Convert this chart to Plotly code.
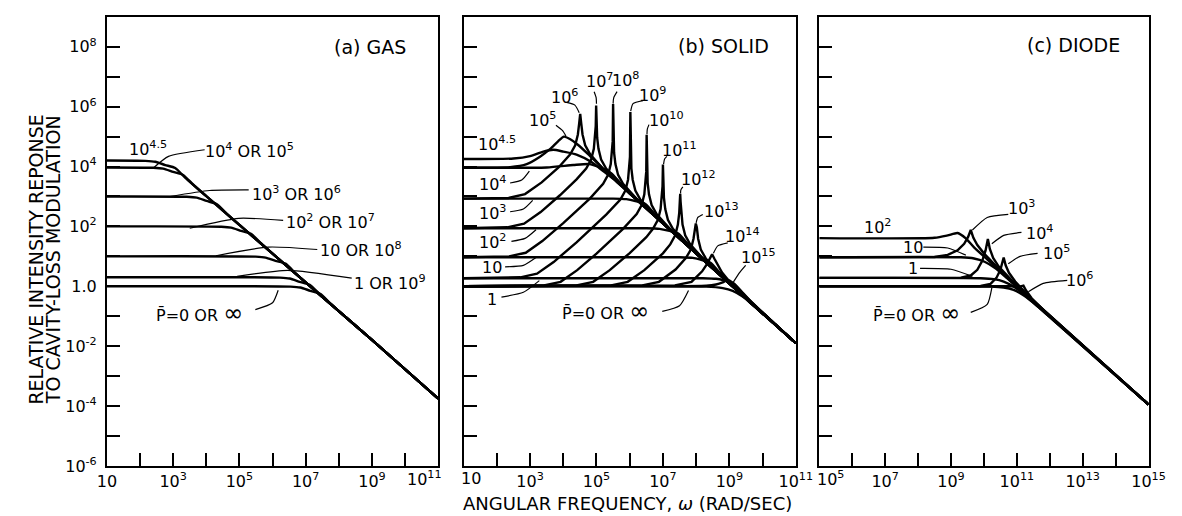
import numpy as np
import plotly.graph_objects as go

FONT = "DejaVu Sans"
W, H = 1182, 516

# ---------------- tick labels ----------------
x_ticks_ab = list(range(1, 12))
x_ticklabels_a = ["10", "", "10<sup>3</sup>", "", "10<sup>5</sup>", "", "10<sup>7</sup>", "",
                  "10<sup>9</sup>", "", ""]
x_ticklabels_b = ["", "", "10<sup>3</sup>", "", "10<sup>5</sup>", "", "10<sup>7</sup>", "",
                  "10<sup>9</sup>", "", "10<sup>11</sup>"]
x_ticks_c = list(range(5, 16))
x_ticklabels_c = ["", "", "10<sup>7</sup>", "", "10<sup>9</sup>", "", "10<sup>11</sup>", "",
                  "10<sup>13</sup>", "", "10<sup>15</sup>"]
# edge tick labels that sit slightly off their tick in the original: (text, pixel x)
edge_tick_labels = [("10<sup>11</sup>", 416), ("10", 464), ("10<sup>5</sup>", 832)]
y_ticks = list(range(-6, 10))
y_ticklabels = ["10<sup>-6</sup>", "", "10<sup>-4</sup>", "", "10<sup>-2</sup>", "", "1.0", "",
                "10<sup>2</sup>", "", "10<sup>4</sup>", "", "10<sup>6</sup>", "", "10<sup>8</sup>", ""]

# ---------------- (a) GAS : log10(omega), log10(response) ----------------
gas_curves = [
    ("0 or inf", [1, 6.54, 6.84, 7.14, 7.44, 7.74, 8, 9, 11],
     [0, -0.01, -0.04, -0.15, -0.25, -0.57, -0.83, -1.79, -3.75]),
    ("1 or 1e9", [1, 6.22, 6.52, 6.82, 7.12, 7.42, 8, 9, 11],
     [0.3, 0.29, 0.26, 0.15, 0.05, -0.26, -0.83, -1.79, -3.75]),
    ("10 or 1e8", [1, 5.49, 5.79, 6.09, 6.39, 6.69, 7, 8, 9, 11],
     [1, 0.99, 0.96, 0.85, 0.76, 0.44, 0.13, -0.83, -1.79, -3.75]),
    ("1e2 or 1e7", [1, 4.45, 4.75, 5.05, 5.35, 5.65, 6, 7, 8, 9, 11],
     [2, 1.99, 1.96, 1.85, 1.75, 1.44, 1.09, 0.13, -0.83, -1.79, -3.75]),
    ("1e3 or 1e6", [1, 3.41, 3.71, 4.01, 4.31, 4.61, 5, 6, 7, 8, 9, 11],
     [3, 2.99, 2.96, 2.85, 2.75, 2.43, 2.05, 1.09, 0.13, -0.83, -1.79, -3.75]),
    ("1e4 or 1e5", [1, 2.4, 2.7, 3.0, 3.3, 3.6, 4, 5, 6, 7, 8, 9, 11],
     [3.97, 3.96, 3.93, 3.82, 3.72, 3.4, 3.01, 2.05, 1.09, 0.13, -0.83, -1.79, -3.75]),
    ("1e4.5", [1, 2.16, 2.46, 2.76, 3.06, 3.36, 4, 5, 6, 7, 8, 9, 11],
     [4.2, 4.19, 4.16, 4.05, 3.95, 3.63, 3.01, 2.05, 1.09, 0.13, -0.83, -1.79, -3.75]),
]

# ---------------- (b) SOLID ----------------
solid_smooth_curves = [
    ("0", [1, 8.3, 8.8, 9.1, 9.4, 9.8, 11], [0, -0.01, -0.06, -0.15, -0.34, -0.72, -1.9]),
    ("1", [1, 8.2, 8.6, 8.83, 9.13, 9.43, 9.9, 11], [0.27, 0.27, 0.25, 0.2, 0.09, -0.27, -0.77, -1.9]),
    ("10", [1, 7.5, 7.9, 8.13, 8.43, 8.73, 9.2, 11], [0.97, 0.97, 0.95, 0.89, 0.79, 0.43, -0.07, -1.9]),
    ("1e2", [1, 6.5, 6.9, 7.16, 7.46, 7.76, 8.2, 9, 11], [1.94, 1.94, 1.92, 1.86, 1.76, 1.4, 0.94, 0.1, -1.9]),
    ("1e3", [1, 5.5, 5.9, 6.17, 6.47, 6.77, 7.2, 8, 9, 11],
     [2.93, 2.93, 2.91, 2.85, 2.75, 2.39, 1.93, 1.1, 0.1, -1.9]),
    ("1e4", [1, 3.5, 4.3, 4.8, 5.14, 5.44, 5.74, 6.2, 7, 8, 9, 11],
     [3.96, 3.97, 4.05, 4.08, 3.95, 3.78, 3.42, 2.93, 2.1, 1.1, 0.1, -1.9]),
    ("1e4.5", [1, 2.5, 3.0, 3.4, 3.7, 4.0, 4.4, 4.85, 5.2, 5.6, 6, 7, 8, 9, 11],
     [4.25, 4.27, 4.35, 4.5, 4.56, 4.5, 4.4, 4.15, 3.85, 3.5, 3.1, 2.1, 1.1, 0.1, -1.9]),
    ("1e5", [1, 2.4, 2.9, 3.3, 3.6, 3.85, 4.02, 4.2, 4.45, 4.8, 5.2, 6, 8, 11],
     [3.96, 3.98, 4.08, 4.33, 4.58, 4.85, 5.0, 4.92, 4.72, 4.36, 3.93, 3.1, 1.1, -1.9]),
    ("1e15", [1, 8.3, 8.6, 8.8, 8.95, 9.1, 9.35, 9.7, 11],
     [0, 0.02, 0.06, 0.13, 0.21, 0.12, -0.15, -0.57, -1.9]),
]
solid_peak_curves = [
    ("1e6", [1, 2.35, 2.85, 3.35, 3.85, 4.21, 4.36, 4.44, 4.48, 4.51, 4.54, 4.58, 4.66, 4.81, 5.2, 6, 8, 11],
     [2.93, 2.95, 3.08, 3.47, 3.96, 4.41, 4.71, 5.07, 5.45, 5.76, 5.45, 5.07, 4.71, 4.41, 3.92, 3.1, 1.1, -1.9]),
    ("1e7", [1, 2.32, 2.82, 3.32, 3.9, 4.4, 4.69, 4.84, 4.92, 4.96, 4.978, 4.99, 5.002, 5.02, 5.06, 5.14,
             5.29, 5.7, 6, 8, 11],
     [1.94, 1.97, 2.09, 2.48, 3.04, 3.57, 3.93, 4.23, 4.59, 4.97, 5.35, 6.04, 5.35, 4.97, 4.59, 4.23,
      3.93, 3.43, 3.1, 1.1, -1.9]),
    ("1e8", [1, 2.37, 2.87, 3.37, 4.0, 4.8, 5.2, 5.35, 5.43, 5.47, 5.488, 5.5, 5.512, 5.53, 5.57, 5.65,
             5.8, 6.2, 7, 8, 11],
     [0.97, 1.0, 1.12, 1.51, 2.11, 2.93, 3.42, 3.72, 4.08, 4.46, 4.84, 6.09, 4.84, 4.46, 4.08, 3.72,
      3.42, 2.93, 2.1, 1.1, -1.9]),
    ("1e9", [1, 2.71, 3.21, 3.71, 4.4, 5.3, 5.72, 5.87, 5.95, 5.99, 6.008, 6.02, 6.032, 6.05, 6.09, 6.17,
             6.32, 6.7, 7, 8, 11],
     [0.27, 0.3, 0.42, 0.81, 1.47, 2.4, 2.9, 3.2, 3.56, 3.94, 4.32, 5.82, 4.32, 3.94, 3.56, 3.2,
      2.9, 2.43, 2.1, 1.1, -1.9]),
    ("1e10", [1, 3.42, 3.92, 4.42, 5.0, 5.8, 6.21, 6.36, 6.44, 6.48, 6.498, 6.51, 6.522, 6.54, 6.58, 6.66,
              6.81, 7.2, 8, 11],
     [0, 0.03, 0.15, 0.54, 1.09, 1.92, 2.41, 2.71, 3.07, 3.45, 3.83, 5.06, 3.83, 3.45, 3.07, 2.71,
      2.41, 1.93, 1.1, -1.9]),
    ("1e11", [1, 4.4, 4.9, 5.4, 6.0, 6.5, 6.7, 6.85, 6.93, 6.97, 6.988, 7.0, 7.012, 7.03, 7.07, 7.15,
              7.3, 7.7, 8, 11],
     [0, 0.03, 0.15, 0.54, 1.11, 1.64, 1.92, 2.22, 2.58, 2.96, 3.34, 4.07, 3.34, 2.96, 2.58, 2.22,
      1.92, 1.43, 1.1, -1.9]),
    ("1e12", [1, 5.44, 5.94, 6.44, 7.0, 7.22, 7.37, 7.45, 7.49, 7.508, 7.52, 7.532, 7.55, 7.59, 7.67,
              7.82, 8.2, 9, 11],
     [0, 0.03, 0.15, 0.54, 1.1, 1.4, 1.7, 2.06, 2.44, 2.82, 3.09, 2.82, 2.44, 2.06, 1.7,
      1.4, 0.93, 0.1, -1.9]),
    ("1e13", [1, 6.38, 6.88, 7.38, 7.69, 7.84, 7.92, 7.96, 7.99, 8.02, 8.06, 8.14, 8.29, 8.7, 9, 11],
     [0, 0.03, 0.15, 0.56, 0.94, 1.23, 1.59, 1.97, 2.1, 1.97, 1.59, 1.23, 0.93, 0.43, 0.1, -1.9]),
    ("1e14", [1, 7.36, 7.86, 8.18, 8.33, 8.41, 8.48, 8.55, 8.63, 8.78, 9.1, 11],
     [0, 0.03, 0.15, 0.5, 0.75, 0.95, 1.07, 0.92, 0.75, 0.46, 0.03, -1.9]),
]

# ---------------- (c) DIODE ----------------
diode_smooth_curves = [
    ("0", [5, 10.2, 10.6, 10.9, 11.2, 11.6, 12.2, 15], [0, -0.01, -0.04, -0.12, -0.3, -0.64, -1.22, -3.95]),
    ("1", [5, 9.9, 10.3, 10.6, 10.9, 11.3, 11.9, 15], [0.28, 0.27, 0.24, 0.16, -0.01, -0.35, -0.93, -3.95]),
    ("10", [5, 9.3, 9.7, 10.02, 10.35, 10.7, 11.3, 15], [0.97, 0.97, 0.93, 0.82, 0.6, 0.27, -0.32, -3.95]),
    ("1e2", [5, 8.5, 8.9, 9.2, 9.45, 9.7, 10.1, 10.6, 11.5, 15],
     [1.61, 1.62, 1.7, 1.78, 1.6, 1.3, 0.9, 0.4, -0.51, -3.95]),
]
diode_peak_curves = [
    ("1e3", [5, 8.5, 8.9, 9.2, 9.4, 9.52, 9.6, 9.68, 9.8, 10.0, 10.4, 11, 15],
     [0.97, 0.98, 1.05, 1.2, 1.42, 1.65, 1.88, 1.62, 1.38, 1.1, 0.64, 0.0, -3.95]),
    ("1e4", [5, 9.3, 9.6, 9.8, 9.95, 10.05, 10.12, 10.18, 10.28, 10.45, 10.8, 11.4, 15],
     [0.28, 0.29, 0.36, 0.55, 0.85, 1.2, 1.58, 1.25, 0.95, 0.66, 0.25, -0.39, -3.95]),
    ("1e5", [5, 9.9, 10.2, 10.38, 10.5, 10.6, 10.66, 10.76, 10.95, 11.4, 15],
     [0, 0.01, 0.08, 0.28, 0.55, 0.96, 0.7, 0.45, 0.16, -0.38, -3.95]),
    ("1e6", [5, 10.5, 10.85, 11.05, 11.2, 11.28, 11.45, 11.8, 15],
     [0, 0.01, 0.0, -0.02, 0.02, -0.14, -0.4, -0.79, -3.95]),
]

PBAR = "P\u0304=0 OR <span style='font-size:24px'>\u221e</span>"

# labels: (text, log x, log y, font size)
gas_labels = [
    ("(a) GAS", 8.93, 8.0, 19),
    ("10<sup>4.5</sup>", 2.24, 4.61, 16),
    ("10<sup>4</sup> OR 10<sup>5</sup>", 5.29, 4.53, 16),
    ("10<sup>3</sup> OR 10<sup>6</sup>", 6.71, 3.09, 16),
    ("10<sup>2</sup> OR 10<sup>7</sup>", 7.75, 2.17, 16),
    ("10 OR 10<sup>8</sup>", 8.66, 1.23, 16),
    ("1 OR 10<sup>9</sup>", 9.55, 0.14, 16),
    (PBAR, 3.8, -0.9, 16),
]
solid_labels = [
    ("(b) SOLID", 8.81, 8.02, 19),
    ("10<sup>4.5</sup>", 2.0, 4.77, 16),
    ("10<sup>5</sup>", 3.38, 5.56, 16),
    ("10<sup>6</sup>", 4.05, 6.34, 16),
    ("10<sup>7</sup>", 5.1, 6.87, 16),
    ("10<sup>8</sup>", 5.88, 6.9, 16),
    ("10<sup>9</sup>", 6.7, 6.41, 16),
    ("10<sup>10</sup>", 7.12, 5.56, 16),
    ("10<sup>11</sup>", 7.51, 4.57, 16),
    ("10<sup>12</sup>", 8.07, 3.59, 16),
    ("10<sup>13</sup>", 8.75, 2.54, 16),
    ("10<sup>14</sup>", 9.4, 1.69, 16),
    ("10<sup>15</sup>", 9.88, 1.0, 16),
    ("10<sup>4</sup>", 1.87, 3.43, 16),
    ("10<sup>3</sup>", 1.87, 2.48, 16),
    ("10<sup>2</sup>", 1.87, 1.49, 16),
    ("10", 1.87, 0.64, 16),
    ("1", 1.87, -0.44, 16),
    (PBAR, 5.26, -0.84, 16),
]
diode_labels = [
    ("(c) DIODE", 12.73, 8.05, 19),
    ("10<sup>2</sup>", 6.76, 2.01, 16),
    ("10", 7.86, 1.31, 16),
    ("1", 7.86, 0.6, 16),
    ("10<sup>3</sup>", 11.15, 2.63, 16),
    ("10<sup>4</sup>", 11.68, 1.81, 16),
    ("10<sup>5</sup>", 12.19, 1.13, 16),
    ("10<sup>6</sup>", 12.9, 0.24, 16),
    (PBAR, 7.96, -0.9, 16),
]

# leader lines (log x list, log y list)
gas_leaders = [
    ([3.95, 2.86, 2.42], [4.56, 4.34, 3.97]),
    ([5.28, 4.1, 2.91], [3.22, 3.2, 3.0]),
    ([6.32, 4.98, 3.5], [2.2, 2.27, 1.94]),
    ([7.35, 5.87, 4.29], [1.23, 1.31, 1.02]),
    ([8.39, 6.46, 4.93], [0.27, 0.53, 0.33]),
    ([5.48, 6.0, 6.17], [-0.78, -0.55, -0.13]),
]
solid_leaders = [
    ([3.78, 3.98, 4.08], [5.38, 5.2, 5.02]),
    ([4.1, 4.35, 4.48], [6.14, 6.05, 5.8]),
    ([4.93, 4.99, 5.0], [6.5, 6.3, 6.1]),
    ([5.62, 5.52, 5.5], [6.5, 6.3, 6.1]),
    ([6.4, 6.1, 6.03], [6.2, 6.1, 5.85]),
    ([6.58, 6.53, 6.52], [5.4, 5.25, 5.08]),
    ([7.12, 7.05, 7.02], [4.34, 4.25, 4.08]),
    ([7.6, 7.54, 7.53], [3.32, 3.22, 3.1]),
    ([8.2, 8.05, 8.0], [2.4, 2.3, 2.12]),
    ([8.95, 8.65, 8.52], [1.45, 1.35, 1.1]),
    ([9.49, 9.3, 9.12], [0.7, 0.45, 0.14]),
    ([2.4, 2.75, 2.98], [3.45, 3.55, 3.85]),
    ([2.4, 2.8, 3.08], [2.49, 2.58, 2.87]),
    ([2.44, 2.85, 3.18], [1.5, 1.6, 1.89]),
    ([2.25, 2.8, 3.18], [0.65, 0.7, 0.96]),
    ([2.14, 2.8, 3.28], [-0.36, -0.2, 0.19]),
    ([6.98, 7.5, 7.77], [-0.84, -0.65, -0.14]),
]
diode_leaders = [
    ([8.16, 8.9, 9.45], [1.31, 1.28, 1.04]),
    ([8.06, 9.0, 9.65], [0.6, 0.57, 0.33]),
    ([10.74, 10.1, 9.65], [2.4, 2.3, 1.88]),
    ([11.14, 10.6, 10.24], [1.8, 1.7, 1.42]),
    ([11.63, 11.1, 10.74], [1.1, 1.0, 0.75]),
    ([12.53, 11.8, 11.35], [0.2, 0.1, -0.18]),
    ([9.6, 10.1, 10.24], [-0.87, -0.6, -0.05]),
]

fig = go.Figure()


def add_curve(xs, ys, xa, ya, shape, width=2.4):
    fig.add_trace(go.Scatter(
        x=10 ** np.array(xs, dtype=float), y=10 ** np.array(ys, dtype=float),
        mode="lines", xaxis=xa, yaxis=ya, showlegend=False, hoverinfo="skip",
        line=dict(color="black", width=width, shape=shape, smoothing=0.6 if shape == "spline" else None)))


for _, xs, ys in gas_curves:
    add_curve(xs, ys, "x", "y", "spline")
for _, xs, ys in solid_smooth_curves:
    add_curve(xs, ys, "x2", "y2", "spline")
for _, xs, ys in solid_peak_curves:
    add_curve(xs, ys, "x2", "y2", "linear")
for _, xs, ys in diode_smooth_curves:
    add_curve(xs, ys, "x3", "y3", "spline")
for _, xs, ys in diode_peak_curves:
    add_curve(xs, ys, "x3", "y3", "linear")

for leaders, xa, ya in [(gas_leaders, "x", "y"), (solid_leaders, "x2", "y2"), (diode_leaders, "x3", "y3")]:
    for xs, ys in leaders:
        add_curve(xs, ys, xa, ya, "spline", width=1.2)

annotations = []
for labels, xr, yr in [(gas_labels, "x", "y"), (solid_labels, "x2", "y2"), (diode_labels, "x3", "y3")]:
    for text, lx, ly, fs in labels:
        annotations.append(dict(text=text, x=lx, y=ly, xref=xr, yref=yr, showarrow=False,
                                xanchor="center", yanchor="middle",
                                font=dict(family=FONT, size=fs, color="black")))

TICK_FS = 16
for text, px in edge_tick_labels:
    annotations.append(dict(text=text, x=px / W, y=1 - 480 / H, xref="paper", yref="paper",
                            showarrow=False, xanchor="center", yanchor="middle",
                            font=dict(family=FONT, size=TICK_FS, color="black")))

# axis titles
annotations.append(dict(text="RELATIVE INTENSITY REPONSE", x=18 / W, y=1 - 257 / H, xref="paper", yref="paper",
                        textangle=-90, showarrow=False, xanchor="center", yanchor="middle",
                        font=dict(family=FONT, size=19, color="black")))
annotations.append(dict(text="TO CAVITY-LOSS MODULATION", x=36 / W, y=1 - 257 / H, xref="paper", yref="paper",
                        textangle=-90, showarrow=False, xanchor="center", yanchor="middle",
                        font=dict(family=FONT, size=19, color="black")))
annotations.append(dict(text="ANGULAR FREQUENCY, <i>\u03c9</i> (RAD/SEC)", x=624 / W, y=1 - 505 / H,
                        xref="paper", yref="paper", showarrow=False, xanchor="center", yanchor="middle",
                        font=dict(family=FONT, size=18, color="black")))

ydom = [1 - 467 / H, 1 - 9 / H]
tickfont = dict(family=FONT, size=TICK_FS, color="black")
common = dict(type="log", ticks="inside", ticklen=13, tickwidth=1.5, tickcolor="black",
              showline=True, linecolor="black", linewidth=2, mirror=True, showgrid=False,
              zeroline=False, tickfont=tickfont, tickmode="array")


def xaxis(dom, lo, hi, ticks, labels, anchor):
    return dict(common, domain=dom, range=[lo, hi], tickvals=[10 ** k for k in ticks], ticktext=labels,
                anchor=anchor)


def yaxis(anchor, show):
    return dict(common, domain=ydom, range=[-6, 9], tickvals=[10.0 ** k for k in y_ticks],
                ticktext=y_ticklabels, showticklabels=show, anchor=anchor, ticklabelstandoff=5)


fig.update_layout(
    width=W, height=H, margin=dict(l=0, r=0, t=0, b=0),
    paper_bgcolor="white", plot_bgcolor="white", showlegend=False,
    xaxis=xaxis([91 / W, 430 / W], 1, 11, x_ticks_ab, x_ticklabels_a, "y"),
    xaxis2=xaxis([456 / W, 796 / W], 1, 11, x_ticks_ab, x_ticklabels_b, "y2"),
    xaxis3=xaxis([820 / W, 1157 / W], 5, 15, x_ticks_c, x_ticklabels_c, "y3"),
    yaxis=yaxis("x", True),
    yaxis2=yaxis("x2", False),
    yaxis3=yaxis("x3", False),
    annotations=annotations,
)

fig.write_html("out.html")
